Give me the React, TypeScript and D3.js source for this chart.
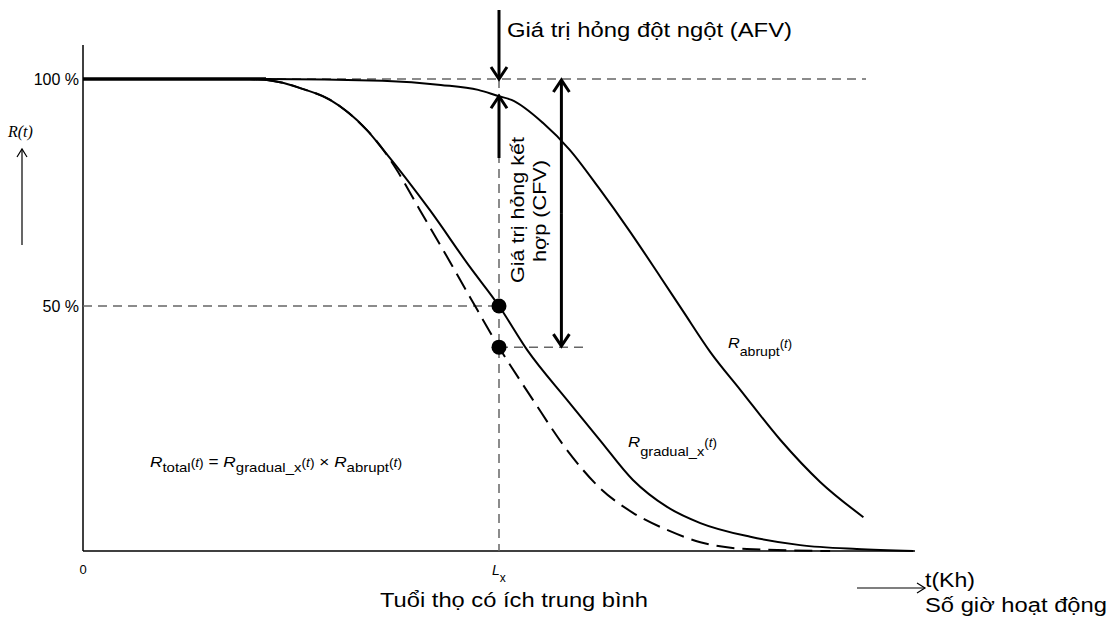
import * as d3 from "d3";

// R_abrupt(t)
const tAbrupt = [0, 22, 36, 43, 47.5, 50, 51.5, 55.3, 58.5, 62, 65.7, 69.4, 72.1, 75.4, 79, 83.8, 88.6, 93.8];
const rAbrupt = [1, 1, 0.996, 0.987, 0.976, 0.962, 0.954, 0.903, 0.844, 0.76, 0.665, 0.564, 0.49, 0.406, 0.329, 0.227, 0.141, 0.069];

// R_gradual_x(t)
const tGradual = [0, 20, 23.7, 26.1, 29.7, 34.1, 36.1, 41.7, 46.5, 50, 53.4, 58.2, 62.1, 66.1, 70.2, 74.2, 80.2, 86.2, 93, 99.8];
const rGradual = [1, 1, 0.993, 0.98, 0.954, 0.888, 0.844, 0.711, 0.586, 0.5, 0.41, 0.308, 0.227, 0.145, 0.09, 0.057, 0.029, 0.012, 0.004, 0];

// R_total(t) (dashed)
const tTotal = [0, 20, 23.7, 26.1, 29.7, 34.1, 35, 37.7, 40.5, 43.3, 46.5, 50, 54.1, 58, 62.1, 66.1, 70.2, 74.2, 79.8, 89.8];
const rTotal = [1, 1, 0.993, 0.98, 0.954, 0.888, 0.87, 0.8, 0.711, 0.623, 0.52, 0.416, 0.308, 0.21, 0.129, 0.078, 0.043, 0.018, 0.004, 0];

const yTicks = [1, 0.5];
const yTickLabels = ["100 %", "50 %"];
const lx = 50;
const rGradualAtLx = 0.5;
const rTotalAtLx = 0.416;

const W = 1119;
const H = 618;
const FONT = "'Liberation Sans', Arial, sans-serif";

const x = d3.scaleLinear().domain([0, 100]).range([83, 915]);
// schematic axis: 50 % is not midway in the original drawing
const y = d3.scaleLinear().domain([0, 0.5, 1]).range([551, 306, 79]);

const line = d3
  .line<[number, number]>()
  .x((d) => x(d[0]))
  .y((d) => y(d[1]))
  .curve(d3.curveMonotoneX);

const zip = (ts: number[], rs: number[]) => ts.map((t, i) => [t, rs[i]] as [number, number]);

// chevron arrow: tip at (x2,y2)
const Arrow = ({ x1, y1, x2, y2, w = 3, hw = 8, hl = 12 }: any) => {
  const ang = Math.atan2(y2 - y1, x2 - x1);
  const bx = x2 - hl * Math.cos(ang);
  const by = y2 - hl * Math.sin(ang);
  const px = -Math.sin(ang) * hw;
  const py = Math.cos(ang) * hw;
  return (
    <g stroke="#000" fill="none" strokeWidth={w}>
      <line x1={x1} y1={y1} x2={x2} y2={y2} />
      <polyline points={`${bx + px},${by + py} ${x2},${y2} ${bx - px},${by - py}`} strokeLinejoin="miter" />
    </g>
  );
};

const Fn = ({ sub, dy = 6, subSize = 13 }: { sub: string; dy?: number; subSize?: number }) => (
  <>
    <tspan fontStyle="italic">R</tspan>
    <tspan dy={dy} fontSize={subSize}>{sub}</tspan>
    <tspan dy={-dy} fontSize={12}>(</tspan>
    <tspan fontSize={12} fontStyle="italic">t</tspan>
    <tspan fontSize={12}>)</tspan>
  </>
);

export default function App() {
  const xl = x(lx);
  const yTop = y(1);
  const yG = y(rGradualAtLx);
  const yT = y(rTotalAtLx);
  const xArr = x(57.5);
  return (
    <svg width={W} height={H} style={{ position: "absolute", left: 0, top: 0, background: "#fff" }} fontFamily={FONT}>
      {/* axes */}
      <line x1={x(0)} y1={45} x2={x(0)} y2={y(0)} stroke="#000" strokeWidth={1.5} />
      <line x1={x(0)} y1={y(0)} x2={x(100)} y2={y(0)} stroke="#000" strokeWidth={1.5} />

      {/* reference dashed lines */}
      <g stroke="#666" strokeWidth={1.5} strokeDasharray="9,6" fill="none">
        <line x1={262} y1={yTop} x2={866} y2={yTop} />
        <line x1={x(0)} y1={yG} x2={xl} y2={yG} />
        <line x1={xl} y1={yTop} x2={xl} y2={y(0)} />
        <line x1={xl} y1={yT} x2={584} y2={yT} />
      </g>

      {/* curves */}
      <g fill="none" stroke="#000" strokeWidth={2}>
        <path d={line(zip(tAbrupt, rAbrupt)) ?? ""} />
        <path d={line(zip(tGradual, rGradual)) ?? ""} />
        <path d={line(zip(tTotal, rTotal)) ?? ""} strokeDasharray="18,8" />
      </g>
      <line x1={x(0)} y1={yTop} x2={x(22)} y2={yTop} stroke="#000" strokeWidth={3.5} />

      <circle cx={xl} cy={yG} r={7.5} fill="#000" />
      <circle cx={xl} cy={yT} r={7.5} fill="#000" />

      {/* arrows */}
      <Arrow x1={xl} y1={10} x2={xl} y2={yTop} />
      <Arrow x1={xl} y1={158} x2={xl} y2={y(0.962)} />
      <Arrow x1={xArr} y1={(yTop + yT) / 2} x2={xArr} y2={yTop + 1} />
      <Arrow x1={xArr} y1={(yTop + yT) / 2} x2={xArr} y2={yT - 1} />
      <Arrow x1={22} y1={245} x2={22} y2={149} w={1.2} hw={5} hl={8} />
      <Arrow x1={857} y1={588} x2={925} y2={588} w={1.2} hw={5} hl={8} />

      {/* texts */}
      <text x={507} y={37} fontSize={20} textLength={285} lengthAdjust="spacingAndGlyphs">Giá trị hỏng đột ngột (AFV)</text>
      <g fontSize={19} textAnchor="middle">
        <text transform={`translate(524,210) rotate(-90)`} textLength={146} lengthAdjust="spacingAndGlyphs">Giá trị hỏng kết</text>
        <text transform={`translate(546,211) rotate(-90)`} textLength={102} lengthAdjust="spacingAndGlyphs">hợp (CFV)</text>
      </g>

      {yTicks.map((v, i) => (
        <text key={v} x={79} y={y(v) + 6} fontSize={16} textAnchor="end">{yTickLabels[i]}</text>
      ))}
      <text x={8} y={137} fontSize={16} fontStyle="italic" fontFamily="'Liberation Serif', serif">R(t)</text>
      <text x={x(0)} y={574} fontSize={13} textAnchor="middle">0</text>
      <text x={xl - 7} y={575} fontSize={14} fontStyle="italic">L<tspan dy={7} fontSize={12} fontStyle="normal">x</tspan></text>

      <text x={380} y={607} fontSize={20} textLength={268} lengthAdjust="spacingAndGlyphs">Tuổi thọ có ích trung bình</text>
      <text x={925} y={587} fontSize={20} textLength={50} lengthAdjust="spacingAndGlyphs">t(Kh)</text>
      <text x={925} y={612} fontSize={20} textLength={182} lengthAdjust="spacingAndGlyphs">Số giờ hoạt động</text>

      <text x={150} y={467} fontSize={15} textLength={252} lengthAdjust="spacingAndGlyphs">
        <Fn sub="total" dy={5} />
        <tspan> = </tspan>
        <Fn sub="gradual_x" dy={5} />
        <tspan> × </tspan>
        <Fn sub="abrupt" dy={5} />
      </text>

      <text x={728} y={348} fontSize={15} textLength={64} lengthAdjust="spacingAndGlyphs">
        <Fn sub="abrupt" dy={8} />
      </text>
      <text x={628} y={447} fontSize={15} textLength={89} lengthAdjust="spacingAndGlyphs">
        <Fn sub="gradual_x" dy={9} />
      </text>
    </svg>
  );
}
